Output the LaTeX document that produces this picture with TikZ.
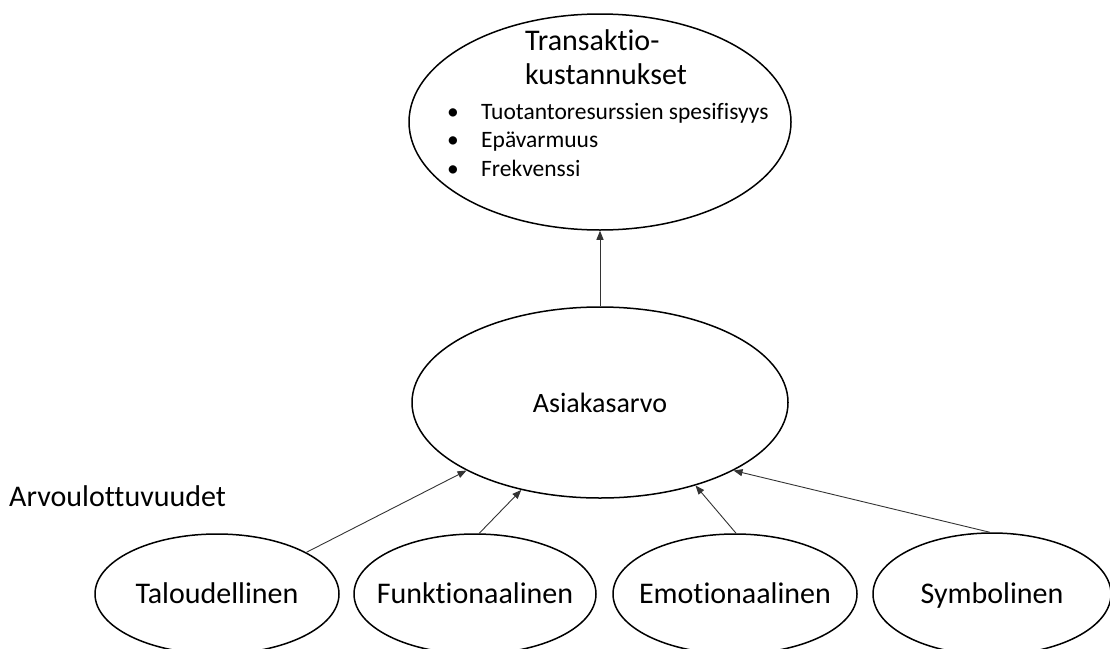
\documentclass[tikz,border=0pt]{standalone}
\usepackage{fontspec}
\setmainfont{Carlito}[Ligatures=NoCommon]
\usetikzlibrary{shapes.geometric, arrows.meta}
\tikzset{oval/.style={draw, ellipse, line width=1.5pt, inner sep=0pt},
  link/.style={-{Triangle[length=9pt, width=7pt]}, line width=0.9pt, black!80},
  big/.style={font=\fontsize{30}{34}\selectfont, inner sep=0pt, text height=19pt, text depth=0pt},
  small/.style={font=\fontsize{23.5}{26}\selectfont, inner sep=0pt}}

\begin{document}
\begin{tikzpicture}[x=1pt, y=-1pt]
    \useasboundingbox (0,0) rectangle (1110,648);
    \node [oval, minimum width=382pt, minimum height=216pt] (trans) at (600,122) {};
    \node [font=\fontsize{30}{34}\selectfont, inner sep=0pt, anchor=north west, align=left] (transtitle) at (525,29) {Transaktio-\\kustannukset};
    \foreach \txt [count=\i] in {Tuotantoresurssien spesifisyys, Epävarmuus, Frekvenssi} {
      \node [small, anchor=base west] (bul\i) at (447,90.5+28.5*\i) {\textbullet};
      \node [small, anchor=base west] (item\i) at (481,90.5+28.5*\i) {\txt};
    }
    \node [oval, minimum width=376pt, minimum height=191pt] (arvo) at (600,402.5) {};
    \node [big, font=\fontsize{28}{34}\selectfont] (arvotext) at (arvo) {Asiakasarvo};
    \node [big, anchor=base west] (dims) at (9,506) {Arvoulottuvuudet};
    \node [oval, minimum width=244pt, minimum height=120pt] (tal) at (217,594) {};
    \node [oval, minimum width=242pt, minimum height=120pt] (fun) at (475,594) {};
    \node [oval, minimum width=244pt, minimum height=120pt] (emo) at (735,594) {};
    \node [oval, minimum width=238pt, minimum height=122pt] (sym) at (992,594) {};
    \node [big] (taltext) at (tal) {Taloudellinen};
    \node [big] (funtext) at (fun) {Funktionaalinen};
    \node [big] (emotext) at (emo) {Emotionaalinen};
    \node [big] (symtext) at (sym) {Symbolinen};
    \draw [link] (arvo.north) -- (trans.south);
    \draw [link] (tal.25.5) -- (arvo.207.2);
    \draw [link] (fun.86) -- (arvo.228.9);
    \draw [link] (emo.89) -- (arvo.319.3);
    \draw [link] (sym.92) -- (arvo.333.4);
  \end{tikzpicture}
\end{document}
